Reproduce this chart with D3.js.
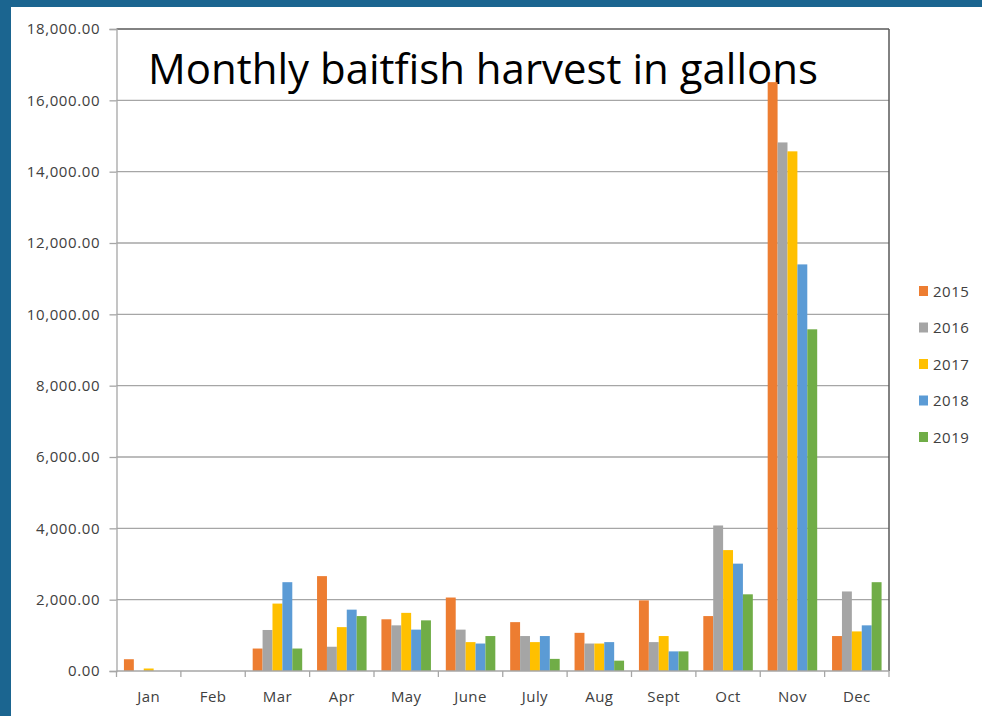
<!DOCTYPE html>
<html>
<head>
<meta charset="utf-8">
<script src="https://cdn.jsdelivr.net/npm/d3@7"></script>
<style>
  html, body { margin: 0; padding: 0; background: #ffffff; }
  svg { display: block; }
</style>
</head>
<body>
<svg id="chart" width="982" height="716"></svg>
<script>
const months = ["Jan", "Feb", "Mar", "Apr", "May", "June", "July", "Aug", "Sept", "Oct", "Nov", "Dec"];
const years = ["2015", "2016", "2017", "2018", "2019"];
const colors = ["#ED7D31", "#A5A5A5", "#FFC000", "#5B9BD5", "#70AD47"];
const v2015 = [330, 0, 630, 2660, 1450, 2060, 1370, 1070, 1980, 1540, 16510, 980];
const v2016 = [0, 0, 1150, 680, 1280, 1160, 980, 770, 810, 4080, 14820, 2230];
const v2017 = [70, 0, 1890, 1230, 1630, 810, 810, 770, 980, 3390, 14570, 1110];
const v2018 = [0, 0, 2490, 1720, 1160, 770, 980, 810, 550, 3010, 11400, 1280];
const v2019 = [0, 0, 630, 1540, 1420, 980, 340, 290, 550, 2150, 9580, 2490];
const yTicks = [0, 2000, 4000, 6000, 8000, 10000, 12000, 14000, 16000, 18000];
const titleText = "Monthly baitfish harvest in gallons";

const series = [v2015, v2016, v2017, v2018, v2019];

(function () {
const svg = d3.select("#chart");
const W = 982, H = 716;
const FONT = "'Open Sans', 'Noto Sans', sans-serif";

svg.append("rect").attr("x", 0).attr("y", 0).attr("width", W).attr("height", H).attr("fill", "#1b6590");
svg.append("rect").attr("x", 11).attr("y", 7).attr("width", W - 11).attr("height", H - 7).attr("fill", "#ffffff");

const pLeft = 116.5, pRight = 889, pTop = 29, pBottom = 671;

const x = d3.scaleBand().domain(months).range([pLeft, pRight]).padding(0);
const gapFrac = 1.5 / 6.5;
const xi = d3.scaleBand().domain(years)
  .range([x.bandwidth() * gapFrac / 2, x.bandwidth() * (1 - gapFrac / 2)]).padding(0);
const y = d3.scaleLinear().domain([0, 18000]).range([pBottom, pTop]);

svg.append("g").selectAll("line").data(yTicks.filter(d => d > 0 && d < 18000)).join("line")
  .attr("x1", pLeft).attr("x2", pRight)
  .attr("y1", d => y(d)).attr("y2", d => y(d))
  .attr("stroke", "#a6a6a6").attr("stroke-width", 1.3);

svg.append("text")
  .attr("x", 148).attr("y", 84)
  .attr("font-family", FONT)
  .attr("font-size", 42)
  .attr("fill", "#000")
  .attr("textLength", 670)
  .attr("lengthAdjust", "spacingAndGlyphs")
  .text(titleText);

const data = [];
months.forEach((m, i) => years.forEach((yr, j) => data.push({ m, yr, v: series[j][i], c: colors[j] })));
svg.append("g").selectAll("rect").data(data).join("rect")
  .attr("x", d => x(d.m) + xi(d.yr))
  .attr("width", xi.bandwidth())
  .attr("y", d => y(d.v))
  .attr("height", d => y(0) - y(d.v))
  .attr("fill", d => d.c);

svg.append("line").attr("x1", pLeft).attr("x2", pRight).attr("y1", pTop).attr("y2", pTop)
  .attr("stroke", "#595959").attr("stroke-width", 1.3);
svg.append("line").attr("x1", pRight).attr("x2", pRight).attr("y1", pTop).attr("y2", pBottom)
  .attr("stroke", "#595959").attr("stroke-width", 1.5);

const yAxis = d3.axisLeft(y).tickValues(yTicks).tickSize(7).tickPadding(10)
  .tickFormat(d => d3.format(",.2f")(d));
const gy = svg.append("g").attr("transform", `translate(${pLeft},0)`).call(yAxis);
gy.select(".domain").attr("stroke", "#a6a6a6").attr("stroke-width", 1.3);
gy.selectAll(".tick line").attr("stroke", "#a6a6a6").attr("stroke-width", 1.3);
gy.selectAll(".tick text")
  .attr("font-family", FONT)
  .attr("font-size", 15).attr("fill", "#404040")
  .attr("letter-spacing", 0.6)
  .attr("dx", 0.6);

const gx = svg.append("g").attr("transform", `translate(0,${pBottom})`);
gx.append("line").attr("x1", pLeft).attr("x2", pRight).attr("y1", 0).attr("y2", 0)
  .attr("stroke", "#a6a6a6").attr("stroke-width", 1.3);
const boundaries = months.map(m => x(m)).concat([pRight]);
gx.selectAll("line.tk").data(boundaries).join("line").attr("class", "tk")
  .attr("x1", d => d).attr("x2", d => d).attr("y1", 0).attr("y2", 6)
  .attr("stroke", "#a6a6a6").attr("stroke-width", 1.3);
gx.selectAll("text").data(months).join("text")
  .attr("x", d => x(d) + x.bandwidth() / 2)
  .attr("y", 31)
  .attr("text-anchor", "middle")
  .attr("font-family", FONT)
  .attr("font-size", 15).attr("fill", "#404040")
  .attr("letter-spacing", 0.4)
  .text(d => d);

const lg = svg.append("g").selectAll("g").data(years).join("g")
  .attr("transform", (d, i) => `translate(919,${291 + i * 36.5})`);
lg.append("rect").attr("x", 0).attr("y", -5).attr("width", 9).attr("height", 10)
  .attr("fill", (d, i) => colors[i]);
lg.append("text").attr("x", 14).attr("y", 5.5)
  .attr("font-family", FONT)
  .attr("font-size", 15).attr("fill", "#404040")
  .attr("letter-spacing", 0.5)
  .text(d => d);
})();
</script>
</body>
</html>
